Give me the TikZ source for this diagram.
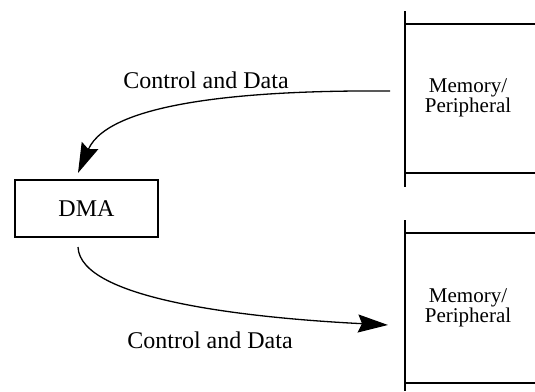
\documentclass[tikz,border=0pt]{standalone}
\usepackage{fontspec}
\setmainfont{Liberation Serif}
\usetikzlibrary{arrows.meta}

\tikzset{
  box/.style={draw, line width=1pt, minimum width=71.5pt, minimum height=28.5pt, font=\fontsize{12}{14}\selectfont},
  memtext/.style={align=center, font=\fontsize{10.5}{10}\selectfont},
  flow/.style={line width=0.65pt, -{Stealth[length=15pt, width=9pt, inset=2pt]}},
  lbl/.style={font=\fontsize{12}{14}\selectfont}
}

\begin{document}
\begin{tikzpicture}[x=0.5pt, y=-0.5pt]
                \useasboundingbox (0,0) rectangle (535,391);
                % DMA controller
                \node[box] (dma) at (86.5,208.5) {DMA};
                % memory blocks
                \node[memtext] (memA) at (468,98) {Memory/\\Peripheral};
                \node[memtext] (memB) at (468,308) {Memory/\\Peripheral};
                \draw[line width=1pt] (405,11) -- (405,187) (405,24) -- (535,24) (405,173) -- (535,173);
                \draw[line width=1pt] (405,220) -- (405,391) (405,233) -- (535,233) (405,383) -- (535,383);
                % transfer paths
                \coordinate (srcA) at (390,91);
                \coordinate (tipA) at (78,173);
                \coordinate (srcB) at (78,247);
                \coordinate (tipB) at (388,325);
                \draw[flow] (srcA) .. controls (260,90) and (110,100) .. (tipA);
                \draw[flow] (srcB) .. controls (80,300) and (250,318) .. (tipB);
                \node[lbl] (lblA) at (206,80) {Control and Data};
                \node[lbl] (lblB) at (210,340) {Control and Data};
            \end{tikzpicture}
\end{document}
